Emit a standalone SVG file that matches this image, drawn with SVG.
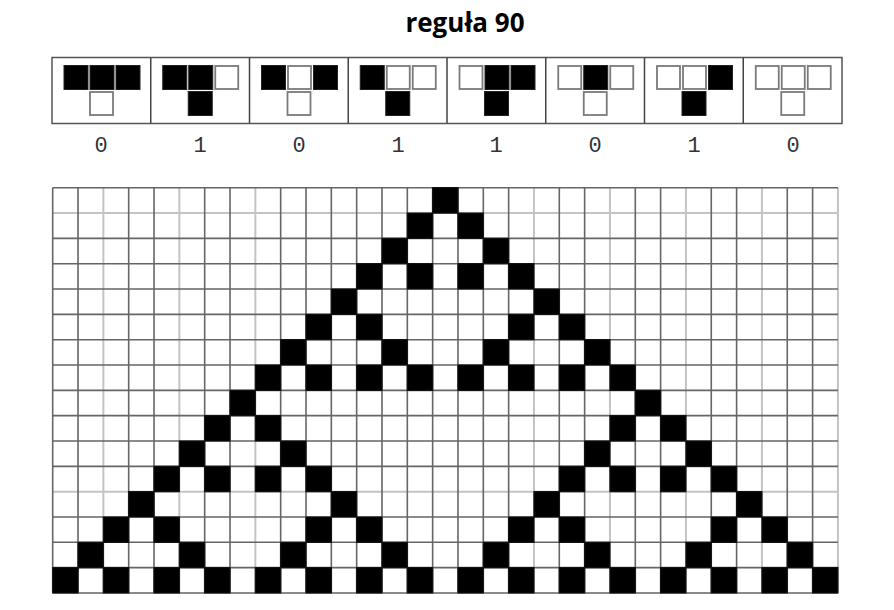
<svg xmlns="http://www.w3.org/2000/svg" width="894" height="610" viewBox="0 0 894 610">
<style>
.title{font-family:"Open Sans","Liberation Sans",sans-serif;font-weight:bold;font-size:26px;fill:#000}
.lbl{font-family:"Liberation Mono","Courier New",monospace;font-size:22px;fill:#333;text-anchor:middle}
.frame{fill:#fff;stroke:#555;stroke-width:1.5}
.div{stroke:#444;stroke-width:1.5}
.w{fill:#fff;stroke:#7a7a7a;stroke-width:1.8}
.b{fill:#000;stroke:#222;stroke-width:1}
.gd{fill:none;stroke:#666;stroke-width:1.6;vector-effect:non-scaling-stroke}
.gl{fill:none;stroke:#c4c4c4;stroke-width:2;vector-effect:non-scaling-stroke}
.on{fill:#000;stroke:#111;stroke-width:1.2;vector-effect:non-scaling-stroke}
</style>
<defs>
<rect id="cw" class="w" x="1" y="0" width="23" height="23"/>
<rect id="cb" class="b" x="0.5" y="-0.5" width="24" height="24"/>
</defs>
<rect width="894" height="610" fill="#fff"/>
<text class="title" x="465" y="32" text-anchor="middle">reguła 90</text>

<g id="rules">
<rect class="frame" x="52" y="57.5" width="790" height="66"/>
<path class="div" d="M150.75 57.5V123.5M249.5 57.5V123.5M348.25 57.5V123.5M447 57.5V123.5M545.75 57.5V123.5M644.5 57.5V123.5M743.25 57.5V123.5"/>

<g id="rule-111" transform="translate(52 0)">
<use href="#cb" x="11.5" y="66"/><use href="#cb" x="37.5" y="66"/><use href="#cb" x="63.5" y="66"/>
<use href="#cw" x="37" y="92"/>
</g>
<g id="rule-110" transform="translate(150.75 0)">
<use href="#cb" x="11.5" y="66"/><use href="#cb" x="37.5" y="66"/><use href="#cw" x="63.5" y="66"/>
<use href="#cb" x="37" y="92"/>
</g>
<g id="rule-101" transform="translate(249.5 0)">
<use href="#cb" x="11.5" y="66"/><use href="#cw" x="37.5" y="66"/><use href="#cb" x="63.5" y="66"/>
<use href="#cw" x="37" y="92"/>
</g>
<g id="rule-100" transform="translate(348.25 0)">
<use href="#cb" x="11.5" y="66"/><use href="#cw" x="37.5" y="66"/><use href="#cw" x="63.5" y="66"/>
<use href="#cb" x="37" y="92"/>
</g>
<g id="rule-011" transform="translate(447 0)">
<use href="#cw" x="11.5" y="66"/><use href="#cb" x="37.5" y="66"/><use href="#cb" x="63.5" y="66"/>
<use href="#cb" x="37" y="92"/>
</g>
<g id="rule-010" transform="translate(545.75 0)">
<use href="#cw" x="11.5" y="66"/><use href="#cb" x="37.5" y="66"/><use href="#cw" x="63.5" y="66"/>
<use href="#cw" x="37" y="92"/>
</g>
<g id="rule-001" transform="translate(644.5 0)">
<use href="#cw" x="11.5" y="66"/><use href="#cw" x="37.5" y="66"/><use href="#cb" x="63.5" y="66"/>
<use href="#cb" x="37" y="92"/>
</g>
<g id="rule-000" transform="translate(743.25 0)">
<use href="#cw" x="11.5" y="66"/><use href="#cw" x="37.5" y="66"/><use href="#cw" x="63.5" y="66"/>
<use href="#cw" x="37" y="92"/>
</g>

<g id="outputs">
<text class="lbl" x="101" y="152">0</text>
<text class="lbl" x="200" y="152">1</text>
<text class="lbl" x="299" y="152">0</text>
<text class="lbl" x="398" y="152">1</text>
<text class="lbl" x="496" y="152">1</text>
<text class="lbl" x="595" y="152">0</text>
<text class="lbl" x="694" y="152">1</text>
<text class="lbl" x="793" y="152">0</text>
</g>
</g>

<g id="grid" transform="translate(52.7 187.7) scale(25.33)">
<path class="gl" d="M2 0V16M5 0V16M8 0V16M19 0V16M22 0V16M25 0V16M28 0V16M31 0V16M0 1H31M0 12H31"/>
<path class="gd" d="M0 0V16M1 0V16M3 0V16M4 0V16M6 0V16M7 0V16M9 0V16M10 0V16M11 0V16M12 0V16M13 0V16M14 0V16M15 0V16M16 0V16M17 0V16M18 0V16M20 0V16M21 0V16M23 0V16M24 0V16M26 0V16M27 0V16M29 0V16M30 0V16M0 0H31M0 2H31M0 3H31M0 4H31M0 5H31M0 6H31M0 7H31M0 8H31M0 9H31M0 10H31M0 11H31M0 13H31M0 14H31M0 15H31M0 16H31"/>
<path class="on" d="M15 0h1v1h-1z
M14 1h1v1h-1zM16 1h1v1h-1z
M13 2h1v1h-1zM17 2h1v1h-1z
M12 3h1v1h-1zM14 3h1v1h-1zM16 3h1v1h-1zM18 3h1v1h-1z
M11 4h1v1h-1zM19 4h1v1h-1z
M10 5h1v1h-1zM12 5h1v1h-1zM18 5h1v1h-1zM20 5h1v1h-1z
M9 6h1v1h-1zM13 6h1v1h-1zM17 6h1v1h-1zM21 6h1v1h-1z
M8 7h1v1h-1zM10 7h1v1h-1zM12 7h1v1h-1zM14 7h1v1h-1zM16 7h1v1h-1zM18 7h1v1h-1zM20 7h1v1h-1zM22 7h1v1h-1z
M7 8h1v1h-1zM23 8h1v1h-1z
M6 9h1v1h-1zM8 9h1v1h-1zM22 9h1v1h-1zM24 9h1v1h-1z
M5 10h1v1h-1zM9 10h1v1h-1zM21 10h1v1h-1zM25 10h1v1h-1z
M4 11h1v1h-1zM6 11h1v1h-1zM8 11h1v1h-1zM10 11h1v1h-1zM20 11h1v1h-1zM22 11h1v1h-1zM24 11h1v1h-1zM26 11h1v1h-1z
M3 12h1v1h-1zM11 12h1v1h-1zM19 12h1v1h-1zM27 12h1v1h-1z
M2 13h1v1h-1zM4 13h1v1h-1zM10 13h1v1h-1zM12 13h1v1h-1zM18 13h1v1h-1zM20 13h1v1h-1zM26 13h1v1h-1zM28 13h1v1h-1z
M1 14h1v1h-1zM5 14h1v1h-1zM9 14h1v1h-1zM13 14h1v1h-1zM17 14h1v1h-1zM21 14h1v1h-1zM25 14h1v1h-1zM29 14h1v1h-1z
M0 15h1v1h-1zM2 15h1v1h-1zM4 15h1v1h-1zM6 15h1v1h-1zM8 15h1v1h-1zM10 15h1v1h-1zM12 15h1v1h-1zM14 15h1v1h-1zM16 15h1v1h-1zM18 15h1v1h-1zM20 15h1v1h-1zM22 15h1v1h-1zM24 15h1v1h-1zM26 15h1v1h-1zM28 15h1v1h-1zM30 15h1v1h-1z"/>
</g>
</svg>
